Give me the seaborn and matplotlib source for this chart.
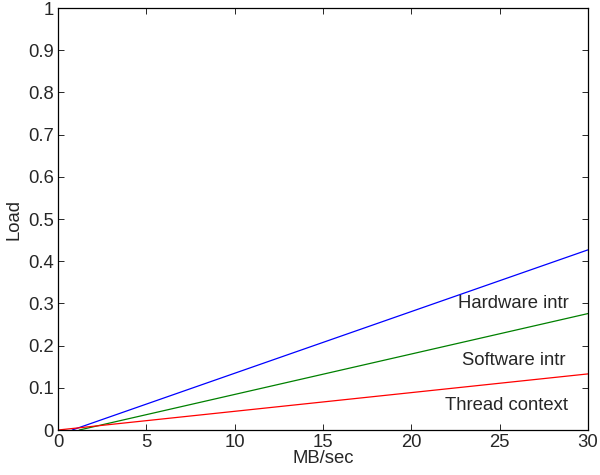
import pandas as pd
import matplotlib
matplotlib.use("Agg")
import matplotlib.pyplot as plt
import seaborn as sns

# Dados (MB/sec -> Load)
mbps_hardware = [0.8, 30]
load_hardware = [0.0, 0.427]
mbps_software = [1.2, 30]
load_software = [0.0, 0.276]
mbps_thread = [0.0, 30]
load_thread = [0.0, 0.133]

series_nomes = ["Hardware intr", "Software intr", "Thread context"]
series_cores = ["#0000ff", "#008000", "#ff0000"]
label_x = [25.8, 25.8, 25.4]
label_y = [0.300, 0.164, 0.058]

x_ticks = [0, 5, 10, 15, 20, 25, 30]
y_ticks = [0, 0.1, 0.2, 0.3, 0.4, 0.5, 0.6, 0.7, 0.8, 0.9, 1]
y_tick_labels = ["0", "0.1", "0.2", "0.3", "0.4", "0.5", "0.6", "0.7", "0.8", "0.9", "1"]

sns.set_style("ticks")
plt.rcParams['font.family'] = ['Liberation Sans', 'DejaVu Sans']
TAMANHO = 13.3

df = pd.concat([
    pd.DataFrame({"mbps": mbps_hardware, "load": load_hardware, "serie": series_nomes[0]}),
    pd.DataFrame({"mbps": mbps_software, "load": load_software, "serie": series_nomes[1]}),
    pd.DataFrame({"mbps": mbps_thread, "load": load_thread, "serie": series_nomes[2]}),
])

fig = plt.figure(figsize=(6, 4.75), dpi=100)
ax = fig.add_axes([0.0967, 0.0947, 0.8833, 0.8883])

sns.lineplot(data=df, x="mbps", y="load", hue="serie", palette=series_cores,
             hue_order=series_nomes, linewidth=0.9, legend=False, ax=ax)

for nome, x, y in zip(series_nomes, label_x, label_y):
    ax.text(x, y, nome, ha="center", va="center", fontsize=TAMANHO)

ax.set_xlim(0, 30)
ax.set_ylim(0, 1)
ax.set_xticks(x_ticks)
ax.set_yticks(y_ticks)
ax.set_yticklabels(y_tick_labels)
ax.tick_params(direction="in", length=4, width=0.7, labelsize=TAMANHO,
               top=True, right=True, pad=3)
for s in ax.spines.values():
    s.set_visible(True)
    s.set_linewidth(0.9)
    s.set_color("black")

ax.set_xlabel("MB/sec", fontsize=TAMANHO, labelpad=-1)
ax.set_ylabel("Load", fontsize=TAMANHO, labelpad=4)

plt.savefig("out.png", dpi=100)
